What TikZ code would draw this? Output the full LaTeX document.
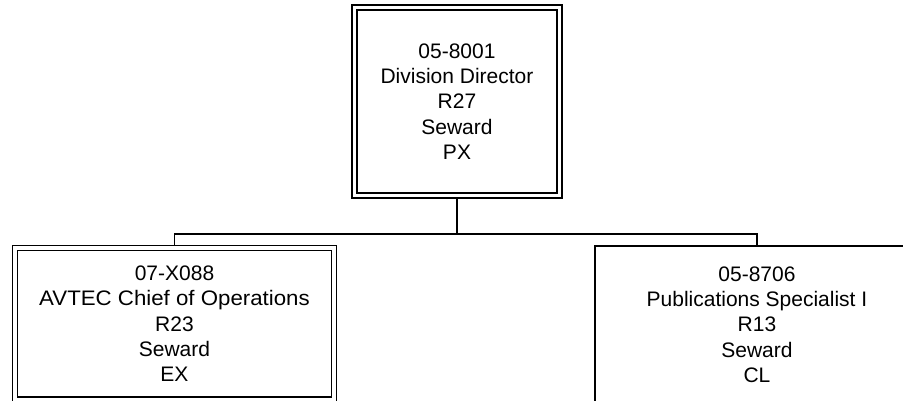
\documentclass[tikz,border=0pt]{standalone}
\usepackage{fontspec}
\setmainfont{Liberation Sans}
\usetikzlibrary{backgrounds}
\tikzset{
  posbox/.style={draw, line width=1.4pt, inner sep=0pt, outer sep=0pt, align=center,
    font=\fontsize{21}{25.3}\selectfont},
  dblbox/.style={posbox, double, double distance=3.4pt},
  link/.style={draw, line width=1.4pt}
}
\begin{document}
\begin{tikzpicture}[x=1pt,y=-1pt]
\useasboundingbox (0,0) rectangle (903,401);
\clip (0,0) rectangle (903,401);
\node[dblbox, minimum width=205pt, minimum height=188pt] (top) at (457,101.5)
  {05-8001\\Division Director\\R27\\Seward\\PX};
\node[dblbox, minimum width=319pt, minimum height=151.5pt] (left) at (174.5,323.75)
  {07-X088\\\scalebox{1.06}[1]{AVTEC Chief of Operations}\\R23\\Seward\\EX};
\node[posbox, fill=white, minimum width=324pt, minimum height=157pt] (right) at (757,324.5)
  {05-8706\\Publications Specialist I\\R13\\Seward\\CL};
\coordinate (j) at (457,234);
\begin{pgfonlayer}{background}
\draw[link] (top.south) -- (j);
\draw[link] (left.north) |- (j) -| (right.north);
\end{pgfonlayer}
\end{tikzpicture}
\end{document}
